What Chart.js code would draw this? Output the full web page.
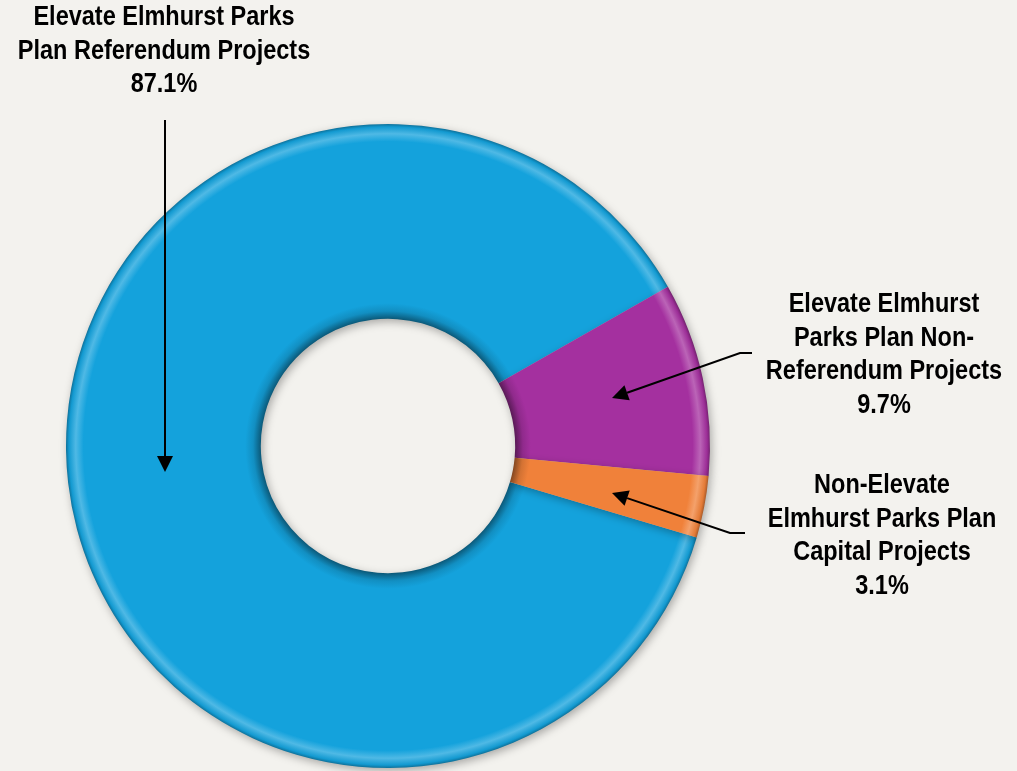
<!DOCTYPE html>
<html>
<head>
<meta charset="utf-8">
<script src="https://cdn.jsdelivr.net/npm/chart.js@4.4.1/dist/chart.umd.min.js"></script>
<style>
  html, body { margin: 0; padding: 0; background: #f3f2ee; }
  #wrap { width: 1017px; height: 771px; }
</style>
</head>
<body>
<div id="wrap"><canvas id="chart"></canvas></div>
<script>
// dane wykresu
const categories = [
  'Elevate Elmhurst Parks Plan Referendum Projects',
  'Elevate Elmhurst Parks Plan Non-Referendum Projects',
  'Non-Elevate Elmhurst Parks Plan Capital Projects'
];
const shares = [87.1, 9.7, 3.1];
const sliceColors = ['#14a2dc', '#a4309f', '#f0813a'];

// etykiety (linie tekstu) dla kazdego wycinka
const labelLines = [
  ['Elevate Elmhurst Parks', 'Plan Referendum Projects', '87.1%'],
  ['Elevate Elmhurst', 'Parks Plan Non-', 'Referendum Projects', '9.7%'],
  ['Non-Elevate', 'Elmhurst Parks Plan', 'Capital Projects', '3.1%']
];

function shade(hex, amt) {
  const n = parseInt(hex.slice(1), 16);
  let r = (n >> 16) & 255, g = (n >> 8) & 255, b = n & 255;
  const f = c => Math.max(0, Math.min(255, Math.round(amt < 0 ? c * (1 + amt) : c + (255 - c) * amt)));
  return 'rgb(' + f(r) + ',' + f(g) + ',' + f(b) + ')';
}

// gradient promieniowy daje efekt "wypuklego" pierscienia
const bevelPlugin = {
  id: 'bevel',
  beforeDatasetsDraw(chart) {
    const ctx = chart.ctx;
    const arcs = chart.getDatasetMeta(0).data;
    arcs.forEach((arc, i) => {
      const r0 = arc.innerRadius, r1 = arc.outerRadius;
      const g = ctx.createRadialGradient(arc.x, arc.y, r0, arc.x, arc.y, r1);
      const base = sliceColors[i];
      g.addColorStop(0, shade(base, -0.45));
      g.addColorStop(0.04, shade(base, -0.12));
      g.addColorStop(0.08, base);
      g.addColorStop(0.91, base);
      g.addColorStop(0.95, shade(base, 0.25));
      g.addColorStop(0.985, shade(base, -0.05));
      g.addColorStop(1, shade(base, -0.3));
      arc.options.backgroundColor = g;
    });
    ctx.save();
    ctx.shadowColor = 'rgba(0,0,0,0.3)';
    ctx.shadowBlur = 8;
    ctx.shadowOffsetX = 2;
    ctx.shadowOffsetY = 3;
  },
  afterDatasetsDraw(chart) {
    chart.ctx.restore();
  }
};

// opisy i strzalki
const calloutPlugin = {
  id: 'callouts',
  afterDraw(chart) {
    const ctx = chart.ctx;
    ctx.save();
    ctx.fillStyle = '#000';
    ctx.font = 'bold 27px "Liberation Sans Narrow", "Arial Narrow", "Liberation Sans", Arial, sans-serif';
    ctx.textAlign = 'center';
    ctx.textBaseline = 'middle';
    const squeeze = 0.87; // brak kroju "Narrow" - zwezamy tekst
    const anchors = [
      { x: 164, y: 18 },
      { x: 884, y: 305 },
      { x: 882, y: 486 }
    ];
    labelLines.forEach((lines, i) => {
      lines.forEach((t, j) => {
        ctx.save();
        ctx.translate(anchors[i].x, anchors[i].y + j * 33.5);
        ctx.scale(squeeze, 1);
        ctx.fillText(t, 0, 0);
        ctx.restore();
      });
    });

    const arrows = [
      [[165, 120], [165, 472]],
      [[752, 353], [740, 353], [612, 398]],
      [[745, 533], [730, 533], [612, 493]]
    ];
    ctx.strokeStyle = '#000';
    ctx.lineWidth = 2;
    arrows.forEach(pts => {
      const n = pts.length;
      const tip = pts[n - 1], prev = pts[n - 2];
      const ang = Math.atan2(tip[1] - prev[1], tip[0] - prev[0]);
      const hl = 16, hw = 8;
      const bx = tip[0] - hl * Math.cos(ang), by = tip[1] - hl * Math.sin(ang);
      ctx.beginPath();
      ctx.moveTo(pts[0][0], pts[0][1]);
      for (let k = 1; k < n - 1; k++) ctx.lineTo(pts[k][0], pts[k][1]);
      ctx.lineTo(bx, by);
      ctx.stroke();
      ctx.beginPath();
      ctx.moveTo(tip[0], tip[1]);
      ctx.lineTo(bx - hw * Math.sin(ang), by + hw * Math.cos(ang));
      ctx.lineTo(bx + hw * Math.sin(ang), by - hw * Math.cos(ang));
      ctx.closePath();
      ctx.fill();
    });
    ctx.restore();
  }
};

new Chart(document.getElementById('chart'), {
  type: 'doughnut',
  data: {
    labels: categories,
    datasets: [{
      data: shares,
      backgroundColor: sliceColors,
      borderWidth: 0,
      hoverOffset: 0
    }]
  },
  options: {
    responsive: true,
    maintainAspectRatio: false,
    animation: false,
    cutout: '39.5%',
    rotation: 106.5,
    layout: {
      padding: { left: 66, right: 307, top: 124, bottom: 3 }
    },
    plugins: {
      legend: { display: false },
      tooltip: { enabled: false }
    }
  },
  plugins: [bevelPlugin, calloutPlugin]
});
</script>
</body>
</html>
